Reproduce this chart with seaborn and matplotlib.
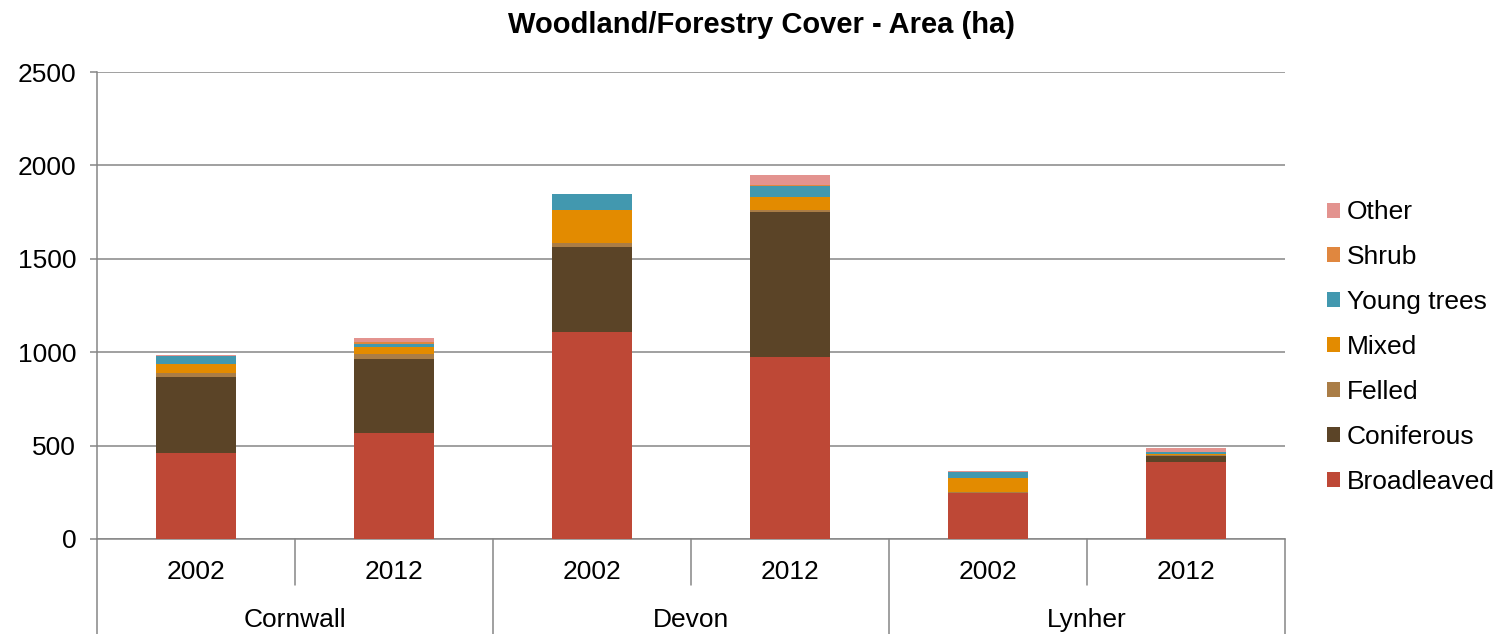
import matplotlib
matplotlib.use("Agg")
import matplotlib.pyplot as plt
from matplotlib.patches import Patch
from matplotlib.lines import Line2D
import seaborn as sns
import pandas as pd
import numpy as np

# ---- data ----
regions = ["Cornwall", "Cornwall", "Devon", "Devon", "Lynher", "Lynher"]
years = ["2002", "2012", "2002", "2012", "2002", "2012"]
group_names = ["Cornwall", "Devon", "Lynher"]
series = ["Broadleaved", "Coniferous", "Felled", "Mixed", "Young trees", "Shrub", "Other"]
broadleaved = [459, 567, 1106, 976, 245, 410]
coniferous = [410, 397, 459, 773, 2, 36]
felled = [18, 24, 18, 11, 6, 3]
mixed = [48, 39, 178, 69, 71, 5]
young_trees = [45, 19, 84, 61, 32, 11]
shrub = [2, 11, 2, 3, 4, 2]
other = [2, 20, 2, 55, 4, 22]
colors = ["#BE4836", "#5B4427", "#AA7D46", "#E38B00", "#4298AF", "#E0873F", "#E3938F"]

values = [broadleaved, coniferous, felled, mixed, young_trees, shrub, other]

sns.set_theme(style="white")
plt.rcParams["font.family"] = ["Liberation Sans", "DejaVu Sans"]
plt.rcParams["text.color"] = "black"
plt.rcParams["axes.labelcolor"] = "black"
plt.rcParams["xtick.color"] = "black"
plt.rcParams["ytick.color"] = "black"

FS = 19

fig = plt.figure(figsize=(15.02, 6.34), dpi=100)
ax = fig.add_axes([97 / 1502, 1 - 539 / 634, (1285 - 97) / 1502, (539 - 72) / 634])

labels = [f"{r} {y}" for r, y in zip(regions, years)]
cum = np.cumsum(np.array(values), axis=0)
# overlay cumulative bars from the top series down
for i in range(len(series) - 1, -1, -1):
    df = pd.DataFrame({"bar": labels, "value": cum[i]})
    sns.barplot(data=df, x="bar", y="value", order=labels, color=colors[i],
                width=0.4, saturation=1, ax=ax, zorder=3, edgecolor="none", linewidth=0)

ax.set_xlim(-0.5, 5.5)
ax.set_ylim(0, 2500)
ax.set_yticks(range(0, 2501, 500))
ax.set_yticklabels([str(v) for v in range(0, 2501, 500)], fontsize=FS)
ax.set_xticks([])
ax.set_xlabel("")
ax.set_ylabel("")
grid_c = "#868686"
ax.yaxis.grid(True, color=grid_c, linewidth=1.1, zorder=0)
ax.set_axisbelow(True)
for s in ["top", "right"]:
    ax.spines[s].set_visible(False)
for s in ["left", "bottom"]:
    ax.spines[s].set_color(grid_c)
    ax.spines[s].set_linewidth(1.1)
ax.tick_params(axis="y", length=5, width=1.1, color=grid_c, left=True, pad=10, labelcolor="black")

fig.text(762 / 1502, 1 - 25 / 634, "Woodland/Forestry Cover - Area (ha)", fontsize=21,
         fontweight="bold", ha="center", va="center", color="black")

# multi-level category axis
trans = ax.get_xaxis_transform()
axh_px = 539 - 72
for i, y in enumerate(years):
    ax.text(i, -(572 - 539) / axh_px, y, transform=trans, ha="center", va="center", fontsize=FS)
for g, name in enumerate(group_names):
    ax.text(2 * g + 0.5, -(620 - 539) / axh_px, name, transform=trans, ha="center", va="center", fontsize=FS)
for k in range(7):
    xpos = k - 0.5
    if k % 2 == 1:
        yb = -(585 - 539) / axh_px
    else:
        yb = -(640 - 539) / axh_px
    ax.add_line(Line2D([xpos, xpos], [0, yb], transform=trans, color=grid_c,
                       linewidth=1.1, clip_on=False))

handles = [Patch(facecolor=colors[i], edgecolor="none", label=series[i]) for i in range(len(series) - 1, -1, -1)]
leg = fig.legend(handles=handles, loc="center left", bbox_to_anchor=(1327 / 1502, 1 - 347 / 634),
                 frameon=False, fontsize=FS, handlelength=0.5, handleheight=0.5,
                 handletextpad=0.25, labelspacing=0.79, borderaxespad=0, borderpad=0)

fig.savefig("out.png", dpi=100)
